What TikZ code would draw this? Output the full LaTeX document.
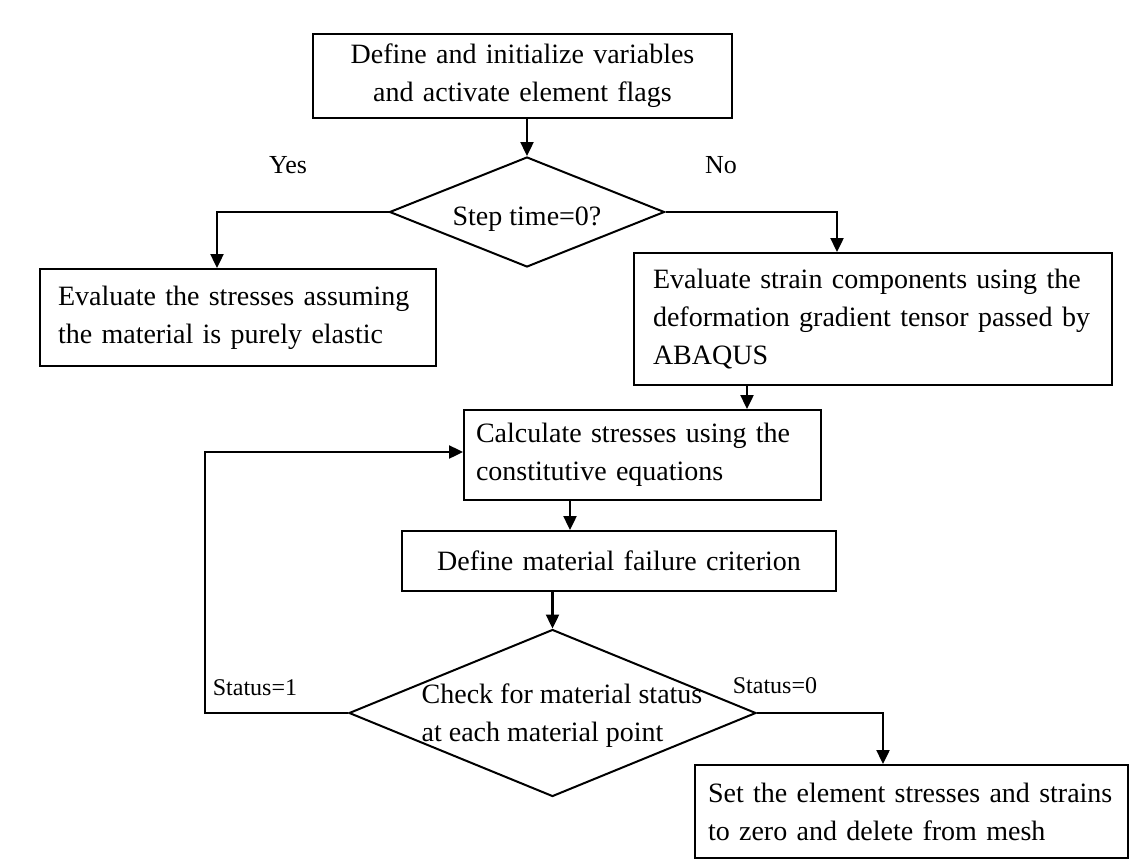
\documentclass[tikz,border=0pt]{standalone}
\usepackage{fontspec}
\setmainfont{Liberation Serif}
\usetikzlibrary{shapes.geometric,arrows.meta,calc}
\begin{document}
\begin{tikzpicture}[x=1pt,y=-1pt,
  box/.style={draw, line width=2pt, rectangle, inner ysep=0pt, font=\fontsize{28}{38}\selectfont},
  dec/.style={draw, line width=2pt, diamond, shape aspect=2.5, inner sep=0pt, font=\fontsize{28}{38}\selectfont},
  arr/.style={-{Triangle[length=14pt,width=13pt]}, line width=2.4pt},
  lbl/.style={font=\fontsize{26}{30}\selectfont},
  slbl/.style={font=\fontsize{24}{28}\selectfont}]
\useasboundingbox (0,0) rectangle (1132,867);
\fill[white] (0,0) rectangle (1132,867);

\node[box, minimum width=419pt, minimum height=84pt, text width=395pt, inner xsep=12pt, align=center] (b1) at (522.5,76) {Define and initialize variables\\ and activate element flags};
\node[dec, minimum width=275pt, minimum height=110pt,
  label={[font=\fontsize{28}{38}\selectfont, yshift=-7pt]center:Step time=0?}] (d1) at (527,212) {};
\node[box, minimum width=396pt, minimum height=97pt, text width=360pt, inner xsep=18pt, align=left] (bA) at (238,317.5) {Evaluate the stresses assuming\\ the material is purely elastic};
\node[box, minimum width=478pt, minimum height=132pt, text width=440pt, inner xsep=19pt, align=left] (bB) at (873,319) {Evaluate strain components using the\\ deformation gradient tensor passed by\\ ABAQUS};
\node[box, minimum width=357pt, minimum height=90pt, text width=333pt, inner xsep=12pt, align=left] (calc) at (642.5,455) {Calculate stresses using the\\ constitutive equations};
\node[box, minimum width=434pt, minimum height=60pt, text width=410pt, inner xsep=12pt, align=center] (def) at (619,561) {Define material failure criterion};
\node[dec, minimum width=407pt, minimum height=167pt,
  label={[font=\fontsize{28}{38}\selectfont, align=left, xshift=9.5pt, yshift=-3pt]center:{Check for material status\\at each material point}}] (d2) at (552.5,713) {};
\node[box, minimum width=433pt, minimum height=93pt, text width=407pt, inner xsep=13pt, align=left] (set) at (911.5,811.5) {Set the element stresses and strains\\ to zero and delete from mesh};

\node[lbl] (yes) at (288,165) {Yes};
\node[lbl] (no) at (721,165) {No};
\node[slbl] (s1) at (255,688) {Status=1};
\node[slbl] (s0) at (775,686) {Status=0};

\coordinate (xa) at (747,0);
\coordinate (xb) at (570,0);
\coordinate (fb) at (205,452);

\draw[arr] (d1.north |- b1.south) -- (d1.north);
\draw[arr] (d1.west) -| ([xshift=-21pt]bA.north);
\draw[arr] (d1.east) -| ([xshift=-36pt]bB.north);
\draw[arr] (bB.south -| xa) -- (calc.north -| xa);
\draw[arr] (calc.south -| xb) -- (def.north -| xb);
\draw[arr] (d2.north |- def.south) -- (d2.north);
\draw[arr] (d2.west) -| (fb) -- (calc.west |- fb);
\draw[arr] (d2.east) -| ([xshift=-28.5pt]set.north);
\end{tikzpicture}
\end{document}
